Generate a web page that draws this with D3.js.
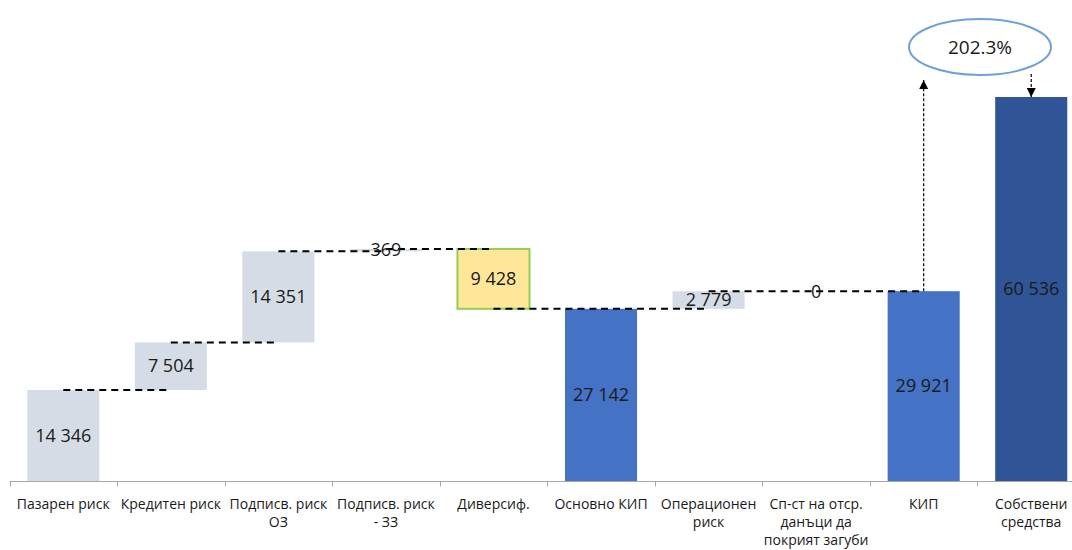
<!DOCTYPE html>
<html><head><meta charset="utf-8">
<script src="https://cdn.jsdelivr.net/npm/d3@7"></script>
<style>body{margin:0;background:#fff}svg{display:block}</style>
</head><body><svg id="c" width="1072" height="550"></svg>
<script>
const categories = ["Пазарен риск","Кредитен риск","Подписв. риск\nОЗ","Подписв. риск\n- ЗЗ","Диверсиф.","Основно КИП","Операционен\nриск","Сп-ст на отср.\nданъци да\nпокрият загуби","КИП","Собствени\nсредства"];
const values = [14346, 7504, 14351, 369, -9428, 27142, 2779, 0, 29921, 60536];
const kinds = ["step","step","step","step","div","total","step","step","total","own"];
const ratioLabel = "202.3%";

const svg = d3.select("#c");
const fmt = d3.formatLocale({decimal:".", thousands:" ", grouping:[3], currency:["",""]}).format(",d");

let run = 0;
const bars = values.map((v,i)=>{
  let lo, hi;
  if (kinds[i]==="total"||kinds[i]==="own"){ lo=0; hi=v; if(kinds[i]==="total") run=v; }
  else { const s=run; run=s+v; lo=Math.min(s,run); hi=Math.max(s,run); }
  return {cat:categories[i], v, lo, hi, end: kinds[i]==="own"?v:run, kind:kinds[i]};
});

const x = d3.scaleBand().domain(categories).range([9.5, 1085]).paddingInner(0.33).paddingOuter(0.165);
const y = d3.scaleLinear().domain([0, 60536]).range([481, 97]);

const fills = {step:"#D6DCE5", div:"#FFE699", total:"#4472C4", own:"#2F5597"};

const axisY = 481.5;
svg.append("line").attr("x1",9.5).attr("x2",1085).attr("y1",axisY).attr("y2",axisY).attr("stroke","#A6A6A6").attr("stroke-width",1);
const step = x.step();
d3.range(categories.length+1).forEach(i=>{
  const tx = Math.round(x(categories[0]) - (step - x.bandwidth())/2 + i*step)+0.5;
  svg.append("line").attr("x1",tx).attr("x2",tx).attr("y1",axisY).attr("y2",axisY+5).attr("stroke","#A6A6A6");
});

svg.selectAll("rect.bar").data(bars).join("rect")
  .attr("x",d=>x(d.cat)).attr("width",x.bandwidth())
  .attr("y",d=>y(d.hi)).attr("height",d=>Math.max(0,y(d.lo)-y(d.hi)))
  .attr("fill",d=>fills[d.kind])
  .attr("stroke",d=>d.kind==="div"?"#92D050":"none").attr("stroke-width",2);

bars.slice(0,-2).forEach((d,i)=>{
  const cx1 = x(d.cat)+x.bandwidth()/2, cx2 = x(bars[i+1].cat)+x.bandwidth()/2;
  const lvl = d.kind==="total"? d.hi : d.end;
  svg.append("line").attr("x1",cx1).attr("x2",cx2).attr("y1",y(lvl)).attr("y2",y(lvl))
    .attr("stroke","#000").attr("stroke-width",2).attr("stroke-dasharray","7,5");
});

svg.selectAll("text.val").data(bars).join("text")
  .attr("x",d=>x(d.cat)+x.bandwidth()/2).attr("y",d=>(y(d.lo)+y(d.hi))/2)
  .attr("dy","0.35em").attr("text-anchor","middle")
  .attr("font-family","Open Sans, sans-serif").attr("font-size",18).attr("fill","#1a1a1a")
  .text(d=>fmt(Math.abs(d.v)));

bars.forEach(d=>{
  const t = svg.append("text").attr("x",x(d.cat)+x.bandwidth()/2).attr("y",509)
    .attr("text-anchor","middle").attr("font-family","Open Sans, sans-serif").attr("font-size",14).attr("fill","#1a1a1a");
  d.cat.split("\n").forEach((ln,j)=>t.append("tspan").attr("x",x(d.cat)+x.bandwidth()/2).attr("dy",j?18:0).text(ln));
});

const defs = svg.append("defs");
defs.append("marker").attr("id","ah").attr("viewBox","0 0 10 10").attr("refX",10).attr("refY",5)
  .attr("markerWidth",9).attr("markerHeight",9).attr("orient","auto").attr("markerUnits","userSpaceOnUse")
  .append("path").attr("d","M0,0L10,5L0,10z").attr("fill","#000");
const kip = bars[8], own = bars[9];
const kx = x(kip.cat)+x.bandwidth()/2, ox = x(own.cat)+x.bandwidth()/2;
const ex = 980, ey = 47;
svg.append("line").attr("x1",kx).attr("x2",kx).attr("y1",y(kip.hi)).attr("y2",80)
  .attr("stroke","#000").attr("stroke-width",1.2).attr("stroke-dasharray","3,2").attr("marker-end","url(#ah)");
svg.append("line").attr("x1",ox).attr("x2",ox).attr("y1",74).attr("y2",y(own.hi))
  .attr("stroke","#000").attr("stroke-width",1.2).attr("stroke-dasharray","3,2").attr("marker-end","url(#ah)");

svg.append("ellipse").attr("cx",ex).attr("cy",ey).attr("rx",71).attr("ry",28)
  .attr("fill","#fff").attr("stroke","#6FA0DC").attr("stroke-width",2);
svg.append("text").attr("x",ex).attr("y",ey).attr("dy","0.35em").attr("text-anchor","middle")
  .attr("font-family","Open Sans, sans-serif").attr("font-size",19).attr("fill","#1a1a1a").text(ratioLabel);
</script></body></html>
